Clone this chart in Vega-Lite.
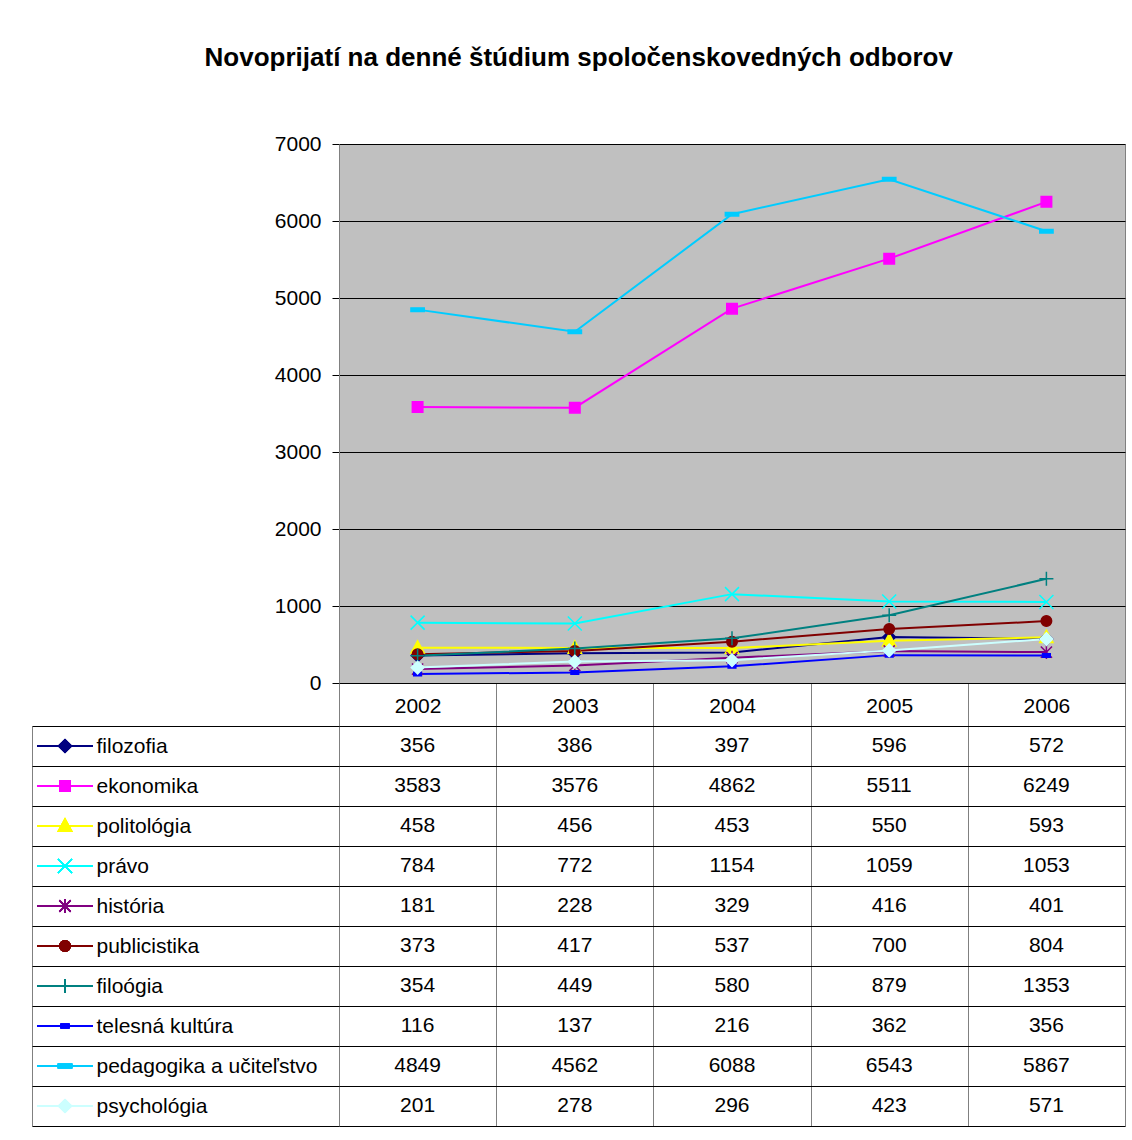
{
  "$schema": "https://vega.github.io/schema/vega-lite/v6.json",
  "padding": {"left": 31, "top": 44, "right": 8, "bottom": 13},
  "background": "white",
  "config": {
    "font": "Liberation Sans",
    "view": {"stroke": null},
    "axis": {"labelFont": "Liberation Sans", "labelColor": "black"}
  },
  "title": {
    "text": "Novoprijatí na denné štúdium spoločenskovedných odborov",
    "fontSize": 26,
    "fontWeight": "bold",
    "font": "Liberation Sans",
    "color": "black",
    "anchor": "middle",
    "offset": 62
  },
  "datasets": {
    "d": [
      {"series": "filozofia", "year": 2002, "value": 356},
      {"series": "filozofia", "year": 2003, "value": 386},
      {"series": "filozofia", "year": 2004, "value": 397},
      {"series": "filozofia", "year": 2005, "value": 596},
      {"series": "filozofia", "year": 2006, "value": 572},
      {"series": "ekonomika", "year": 2002, "value": 3583},
      {"series": "ekonomika", "year": 2003, "value": 3576},
      {"series": "ekonomika", "year": 2004, "value": 4862},
      {"series": "ekonomika", "year": 2005, "value": 5511},
      {"series": "ekonomika", "year": 2006, "value": 6249},
      {"series": "politológia", "year": 2002, "value": 458},
      {"series": "politológia", "year": 2003, "value": 456},
      {"series": "politológia", "year": 2004, "value": 453},
      {"series": "politológia", "year": 2005, "value": 550},
      {"series": "politológia", "year": 2006, "value": 593},
      {"series": "právo", "year": 2002, "value": 784},
      {"series": "právo", "year": 2003, "value": 772},
      {"series": "právo", "year": 2004, "value": 1154},
      {"series": "právo", "year": 2005, "value": 1059},
      {"series": "právo", "year": 2006, "value": 1053},
      {"series": "história", "year": 2002, "value": 181},
      {"series": "história", "year": 2003, "value": 228},
      {"series": "história", "year": 2004, "value": 329},
      {"series": "história", "year": 2005, "value": 416},
      {"series": "história", "year": 2006, "value": 401},
      {"series": "publicistika", "year": 2002, "value": 373},
      {"series": "publicistika", "year": 2003, "value": 417},
      {"series": "publicistika", "year": 2004, "value": 537},
      {"series": "publicistika", "year": 2005, "value": 700},
      {"series": "publicistika", "year": 2006, "value": 804},
      {"series": "filoógia", "year": 2002, "value": 354},
      {"series": "filoógia", "year": 2003, "value": 449},
      {"series": "filoógia", "year": 2004, "value": 580},
      {"series": "filoógia", "year": 2005, "value": 879},
      {"series": "filoógia", "year": 2006, "value": 1353},
      {"series": "telesná kultúra", "year": 2002, "value": 116},
      {"series": "telesná kultúra", "year": 2003, "value": 137},
      {"series": "telesná kultúra", "year": 2004, "value": 216},
      {"series": "telesná kultúra", "year": 2005, "value": 362},
      {"series": "telesná kultúra", "year": 2006, "value": 356},
      {"series": "pedagogika a učiteľstvo", "year": 2002, "value": 4849},
      {"series": "pedagogika a učiteľstvo", "year": 2003, "value": 4562},
      {"series": "pedagogika a učiteľstvo", "year": 2004, "value": 6088},
      {"series": "pedagogika a učiteľstvo", "year": 2005, "value": 6543},
      {"series": "pedagogika a učiteľstvo", "year": 2006, "value": 5867},
      {"series": "psychológia", "year": 2002, "value": 201},
      {"series": "psychológia", "year": 2003, "value": 278},
      {"series": "psychológia", "year": 2004, "value": 296},
      {"series": "psychológia", "year": 2005, "value": 423},
      {"series": "psychológia", "year": 2006, "value": 571}
    ]
  },
  "data": {"name": "d"},
  "columns": 2,
  "bounds": "flush",
  "spacing": {"row": 43, "column": 246},
  "concat": [
    {
      "width": 56,
      "height": 539,
      "data": {"values": [{"blank": ""}]},
      "mark": {"type": "text"},
      "encoding": {"text": {"field": "blank", "type": "nominal"}}
    },
    {
      "width": 786,
      "height": 539,
      "view": {"fill": "#C0C0C0", "stroke": "#808080", "strokeWidth": 1},
      "encoding": {
        "x": {
          "field": "year",
          "type": "ordinal",
          "scale": {"paddingInner": 0, "paddingOuter": 0},
          "axis": {
            "orient": "bottom",
            "title": null,
            "tickBand": "extent",
            "tickSize": 43,
            "tickColor": "#808080",
            "tickWidth": 1,
            "labelPadding": -31,
            "labelFontSize": 21,
            "labelAngle": 0,
            "labelColor": "black",
            "domainColor": "black",
            "domainWidth": 1,
            "grid": false
          }
        },
        "y": {
          "field": "value",
          "type": "quantitative",
          "scale": {"domain": [0, 7000], "nice": false, "zero": true},
          "axis": {
            "title": null,
            "values": [0, 1000, 2000, 3000, 4000, 5000, 6000, 7000],
            "format": "d",
            "labelFontSize": 21,
            "labelColor": "black",
            "labelPadding": 11,
            "tickSize": 7,
            "tickColor": "black",
            "domainColor": "#808080",
            "grid": true,
            "gridColor": "black",
            "gridOpacity": 1,
            "gridWidth": 1
          }
        }
      },
      "layer": [
        {
          "mark": {"type": "line", "strokeWidth": 2},
          "encoding": {
            "color": {
              "field": "series",
              "type": "nominal",
              "legend": null,
              "scale": {
                "domain": ["filozofia", "ekonomika", "politológia", "právo", "história", "publicistika", "filoógia", "telesná kultúra", "pedagogika a učiteľstvo", "psychológia"],
                "range": ["#000080", "#FF00FF", "#FFFF00", "#00FFFF", "#800080", "#800000", "#008080", "#0000FF", "#00CCFF", "#CCFFFF"]
              }
            }
          }
        },
        {
          "mark": {"type": "point", "filled": true, "opacity": 1, "strokeWidth": 1.5, "size": 196},
          "encoding": {
            "fill": {
              "field": "series",
              "type": "nominal",
              "legend": null,
              "scale": {
                "domain": ["filozofia", "ekonomika", "politológia", "právo", "história", "publicistika", "filoógia", "telesná kultúra", "pedagogika a učiteľstvo", "psychológia"],
                "range": ["#000080", "#FF00FF", "#FFFF00", "#00FFFF", "#800080", "#800000", "#008080", "#0000FF", "#00CCFF", "#CCFFFF"]
              }
            },
            "stroke": {
              "field": "series",
              "type": "nominal",
              "legend": null,
              "scale": {
                "domain": ["filozofia", "ekonomika", "politológia", "právo", "história", "publicistika", "filoógia", "telesná kultúra", "pedagogika a učiteľstvo", "psychológia"],
                "range": ["#000080", "#FF00FF", "#FFFF00", "#00FFFF", "#800080", "#800000", "#008080", "#0000FF", "#00CCFF", "#CCFFFF"]
              }
            },
            "shape": {
              "field": "series",
              "type": "nominal",
              "legend": null,
              "scale": {
                "domain": ["filozofia", "ekonomika", "politológia", "právo", "história", "publicistika", "filoógia", "telesná kultúra", "pedagogika a učiteľstvo", "psychológia"],
                "range": [
                  "M0,-0.9L0.9,0L0,0.9L-0.9,0Z",
                  "M-0.75,-0.75L0.75,-0.75L0.75,0.75L-0.75,0.75Z",
                  "M0,-1L0.95,0.75L-0.95,0.75Z",
                  "M-1,-1L1,1M-1,1L1,-1",
                  "M-0.8,-0.8L0.8,0.8M-0.8,0.8L0.8,-0.8M0,-1L0,1",
                  "M-0.75,0A0.75,0.75,0,1,1,0.75,0A0.75,0.75,0,1,1,-0.75,0Z",
                  "M-1,0L1,0M0,-1L0,1",
                  "M-0.55,-0.25L0.55,-0.25L0.55,0.25L-0.55,0.25Z",
                  "M-0.95,-0.25L0.95,-0.25L0.95,0.25L-0.95,0.25Z",
                  "M0,-0.9L0.9,0L0,0.9L-0.9,0Z"
                ]
              }
            }
          }
        }
      ]
    },
    {
      "width": 56,
      "height": 400,
      "encoding": {
        "y": {
          "field": "series",
          "type": "nominal",
          "sort": ["filozofia", "ekonomika", "politológia", "právo", "história", "publicistika", "filoógia", "telesná kultúra", "pedagogika a učiteľstvo", "psychológia"],
          "scale": {"paddingInner": 0, "paddingOuter": 0},
          "axis": {"title": null, "labels": false, "ticks": false, "grid": false, "domain": true, "domainColor": "#808080", "offset": 5}
        }
      },
      "layer": [
        {
          "mark": {"type": "rule", "strokeWidth": 2},
          "encoding": {
            "color": {
              "field": "series",
              "type": "nominal",
              "legend": null,
              "scale": {
                "domain": ["filozofia", "ekonomika", "politológia", "právo", "história", "publicistika", "filoógia", "telesná kultúra", "pedagogika a učiteľstvo", "psychológia"],
                "range": ["#000080", "#FF00FF", "#FFFF00", "#00FFFF", "#800080", "#800000", "#008080", "#0000FF", "#00CCFF", "#CCFFFF"]
              }
            }
          }
        },
        {
          "mark": {"type": "point", "filled": true, "opacity": 1, "strokeWidth": 1.5, "size": 196},
          "encoding": {
            "fill": {
              "field": "series",
              "type": "nominal",
              "legend": null,
              "scale": {
                "domain": ["filozofia", "ekonomika", "politológia", "právo", "história", "publicistika", "filoógia", "telesná kultúra", "pedagogika a učiteľstvo", "psychológia"],
                "range": ["#000080", "#FF00FF", "#FFFF00", "#00FFFF", "#800080", "#800000", "#008080", "#0000FF", "#00CCFF", "#CCFFFF"]
              }
            },
            "stroke": {
              "field": "series",
              "type": "nominal",
              "legend": null,
              "scale": {
                "domain": ["filozofia", "ekonomika", "politológia", "právo", "história", "publicistika", "filoógia", "telesná kultúra", "pedagogika a učiteľstvo", "psychológia"],
                "range": ["#000080", "#FF00FF", "#FFFF00", "#00FFFF", "#800080", "#800000", "#008080", "#0000FF", "#00CCFF", "#CCFFFF"]
              }
            },
            "shape": {
              "field": "series",
              "type": "nominal",
              "legend": null,
              "scale": {
                "domain": ["filozofia", "ekonomika", "politológia", "právo", "história", "publicistika", "filoógia", "telesná kultúra", "pedagogika a učiteľstvo", "psychológia"],
                "range": [
                  "M0,-0.9L0.9,0L0,0.9L-0.9,0Z",
                  "M-0.75,-0.75L0.75,-0.75L0.75,0.75L-0.75,0.75Z",
                  "M0,-1L0.95,0.75L-0.95,0.75Z",
                  "M-1,-1L1,1M-1,1L1,-1",
                  "M-0.8,-0.8L0.8,0.8M-0.8,0.8L0.8,-0.8M0,-1L0,1",
                  "M-0.75,0A0.75,0.75,0,1,1,0.75,0A0.75,0.75,0,1,1,-0.75,0Z",
                  "M-1,0L1,0M0,-1L0,1",
                  "M-0.55,-0.25L0.55,-0.25L0.55,0.25L-0.55,0.25Z",
                  "M-0.95,-0.25L0.95,-0.25L0.95,0.25L-0.95,0.25Z",
                  "M0,-0.9L0.9,0L0,0.9L-0.9,0Z"
                ]
              }
            }
          }
        }
      ]
    },
    {
      "width": 786,
      "height": 400,
      "mark": {"type": "text", "fontSize": 21, "color": "black", "font": "Liberation Sans"},
      "encoding": {
        "x": {
          "field": "year",
          "type": "ordinal",
          "scale": {"paddingInner": 0, "paddingOuter": 0},
          "axis": {"orient": "top", "title": null, "labels": false, "ticks": false, "domain": false, "grid": true, "gridColor": "#808080", "gridOpacity": 1, "gridWidth": 1, "tickBand": "extent"}
        },
        "y": {
          "field": "series",
          "type": "nominal",
          "sort": ["filozofia", "ekonomika", "politológia", "právo", "história", "publicistika", "filoógia", "telesná kultúra", "pedagogika a učiteľstvo", "psychológia"],
          "scale": {"paddingInner": 0, "paddingOuter": 0},
          "axis": {
            "title": null,
            "tickBand": "extent",
            "ticks": true,
            "tickSize": 307,
            "tickColor": "black",
            "tickWidth": 1,
            "grid": true,
            "gridColor": "black",
            "gridOpacity": 1,
            "gridWidth": 1,
            "domain": false,
            "labelAlign": "left",
            "labelPadding": -64,
            "labelFontSize": 21,
            "labelColor": "black",
            "labelLimit": 0
          }
        },
        "text": {"field": "value", "type": "quantitative", "format": "d"}
      }
    }
  ]
}
